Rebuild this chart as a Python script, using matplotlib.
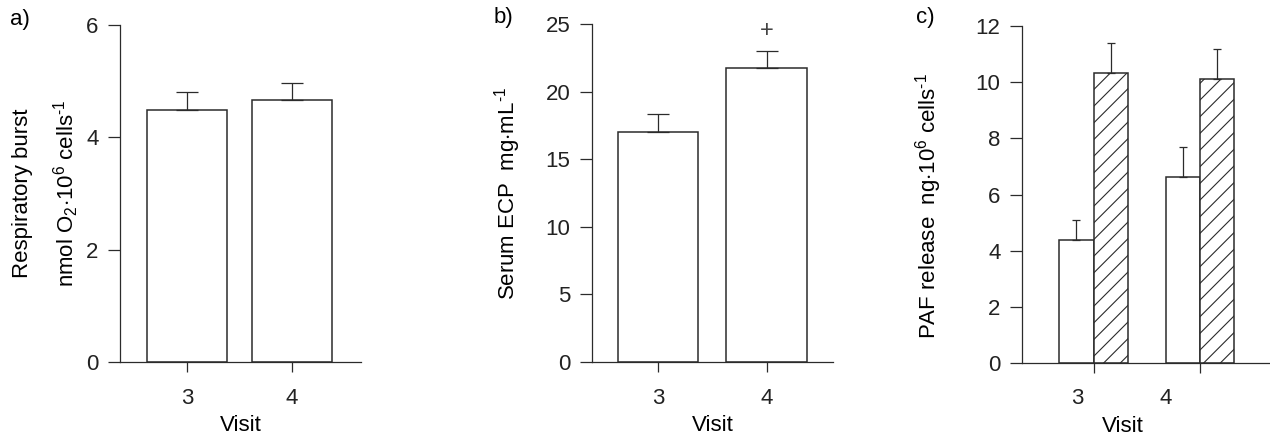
import matplotlib
matplotlib.use("Agg")
import matplotlib.pyplot as plt
from matplotlib.ticker import FixedLocator, NullFormatter

plt.rcParams["font.family"] = ["Liberation Sans", "DejaVu Sans"]
plt.rcParams["mathtext.fontset"] = "custom"
plt.rcParams["mathtext.rm"] = "Liberation Sans"
plt.rcParams["mathtext.it"] = "Liberation Sans:italic"
plt.rcParams["hatch.linewidth"] = 0.8

INK = "#2b2b2b"
FS = 16

# data
visits = [3, 4]

burst_mean = [4.48, 4.67]
burst_sem = [0.32, 0.29]

ecp_mean = [17.05, 21.8]
ecp_sem = [1.3, 1.25]

paf_open_mean = [4.4, 6.64]
paf_open_sem = [0.7, 1.07]
paf_hatch_mean = [10.34, 10.1]
paf_hatch_sem = [1.05, 1.07]


def style_axis(ax, ylim, yticks):
    for side in ("top", "right"):
        ax.spines[side].set_visible(False)
    for side in ("left", "bottom"):
        ax.spines[side].set_color(INK)
        ax.spines[side].set_linewidth(0.9)
    ax.set_ylim(*ylim)
    ax.set_yticks(yticks)
    ax.tick_params(axis="y", length=8.5, width=0.9, color=INK, pad=7,
                   labelsize=FS, labelcolor="#222222")
    ax.tick_params(axis="x", length=7, width=0.9, color=INK, pad=12,
                   labelsize=FS, labelcolor="#222222")


def upper_err(ax, x, mean, sem, cap):
    ax.errorbar(x, mean, yerr=[[0] * len(sem), sem], fmt="none",
                ecolor=INK, elinewidth=0.9, capsize=cap, capthick=0.9)


fig = plt.figure(figsize=(12.7, 4.43), dpi=100)

# a) respiratory burst
ax1 = fig.add_axes([0.0945, 0.1828, 0.1898, 0.7608])
ax1.bar(visits, burst_mean, width=0.77, color="white", edgecolor=INK,
        linewidth=1.1, zorder=2)
upper_err(ax1, visits, burst_mean, burst_sem, 8)
ax1.set_xlim(2.362, 4.657)
ax1.set_xticks(visits)
style_axis(ax1, (0, 6), [0, 2, 4, 6])
ax1.set_xlabel("Visit", fontsize=FS, labelpad=4)
ax1.text(-0.405, 0.5, "Respiratory burst", transform=ax1.transAxes,
         rotation=90, ha="center", va="center", fontsize=FS)
ax1.text(-0.225, 0.5, r"nmol O$_2$$\cdot$10$^6$ cells$^{\text{-}1}$",
         transform=ax1.transAxes, rotation=90, ha="center", va="center",
         fontsize=FS)

# b) serum ECP
ax2 = fig.add_axes([0.4661, 0.1835, 0.1898, 0.7615])
ax2.bar(visits, ecp_mean, width=0.743, color="white", edgecolor=INK,
        linewidth=1.1, zorder=2)
upper_err(ax2, visits, ecp_mean, ecp_sem, 8)
ax2.annotate("+", xy=(visits[1], ecp_mean[1] + ecp_sem[1]), xytext=(0, 14),
             textcoords="offset points", ha="center", va="center",
             fontsize=17, color="#444444")
ax2.set_xlim(2.394, 4.606)
ax2.set_xticks(visits)
style_axis(ax2, (0, 25), [0, 5, 10, 15, 20, 25])
ax2.set_xlabel("Visit", fontsize=FS, labelpad=4)
ax2.text(-0.352, 0.5, r"Serum ECP  mg$\cdot$mL$^{\text{-}1}$",
         transform=ax2.transAxes, rotation=90, ha="center", va="center",
         fontsize=FS)

# c) PAF release
ax3 = fig.add_axes([0.8047, 0.180, 0.1953, 0.7613])
w = 0.322
ax3.bar(visits, paf_open_mean, width=-w, align="edge", color="white",
        edgecolor=INK, linewidth=1.1, zorder=2)
ax3.bar(visits, paf_hatch_mean, width=w, align="edge", color="white",
        edgecolor=INK, linewidth=1.1, hatch="//", zorder=2)
upper_err(ax3, [v - w / 2 for v in visits], paf_open_mean, paf_open_sem, 3)
upper_err(ax3, [v + w / 2 for v in visits], paf_hatch_mean, paf_hatch_sem, 3)
ax3.set_xlim(2.327, 4.66)
style_axis(ax3, (0, 12), [0, 2, 4, 6, 8, 10, 12])
ax3.xaxis.set_major_locator(FixedLocator(visits))
ax3.xaxis.set_major_formatter(NullFormatter())
ax3.xaxis.set_minor_locator(FixedLocator([2.848, 3.682]))
ax3.set_xticklabels([str(v) for v in visits], minor=True)
ax3.tick_params(axis="x", which="minor", length=0, pad=18, labelsize=FS,
                labelcolor="#222222")
ax3.set_xlabel("Visit", fontsize=FS)
ax3.xaxis.set_label_coords(0.407, -0.155)
ax3.text(-0.378, 0.465, r"PAF release  ng$\cdot$10$^6$ cells$^{\text{-}1}$",
         transform=ax3.transAxes, rotation=90, ha="center", va="center",
         fontsize=FS)

# panel letters
fig.text(20 / 1270, 1 - 20 / 443, "a)", ha="center", va="center", fontsize=FS)
fig.text(503 / 1270, 1 - 17 / 443, "b)", ha="center", va="center", fontsize=FS)
fig.text(925 / 1270, 1 - 17 / 443, "c)", ha="center", va="center", fontsize=FS)

fig.savefig("out.png", dpi=100)
